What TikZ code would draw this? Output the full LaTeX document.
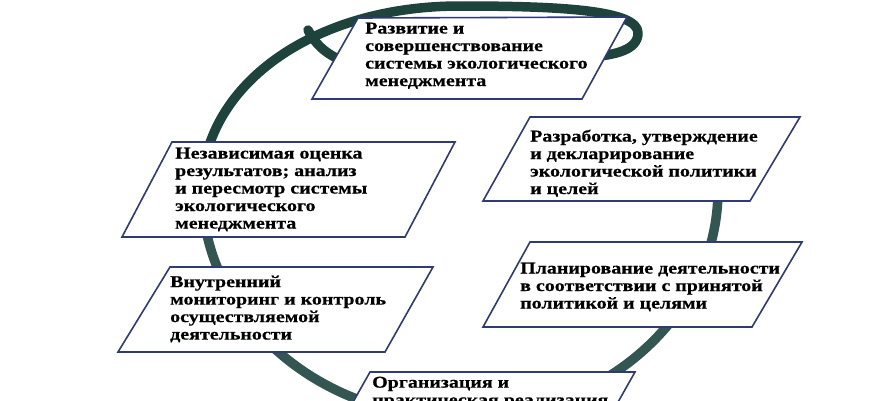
\documentclass[tikz,border=0pt]{standalone}
\usepackage{fontspec}
\newfontfamily\boxfont[FakeStretch=1.21,FakeBold=0.5]{Liberation Serif Bold}
\definecolor{ringcol}{RGB}{30,66,60}
\definecolor{ringlow}{RGB}{52,86,82}
\definecolor{edgecol}{RGB}{48,58,118}
\tikzset{
  ring/.style={draw=ringcol, line width=9.5pt, line cap=round, line join=round},
  pbox/.style={draw=edgecol, fill=white, line width=1.6pt, line join=miter},
  txt/.style={anchor=north west, inner sep=0pt, align=left, text=black,
    font=\boxfont\fontsize{16.5}{17.5}\selectfont}
}
\begin{document}
\begin{tikzpicture}[x=1pt, y=-1pt]
\useasboundingbox (0,0) rectangle (870,400);
\fill[white] (0,0) rectangle (870,400);
\clip (0,0) rectangle (870,400);
% ring
\draw[ring, draw=ringlow] (703,135) .. controls (714,152) and (718,170) .. (718,190)
  .. controls (718,316) and (602.5,418) .. (460,418)
  .. controls (317.5,418) and (202,316) .. (202,190);
\draw[ring] (202,190)
  .. controls (202,88) and (310,6) .. (460,6)
  .. controls (560,6) and (638,10) .. (638,33)
  .. controls (638,50) and (615,55) .. (590,57);
\draw[ring] (308,30) .. controls (316,45) and (326,55) .. (350,64);
% boxes
\draw[pbox] (358,18) -- (627,17) -- (582,99) -- (312,99) -- cycle;
\node[txt] (b1) at (365,22.5) {Развитие и\\совершенствование\\системы экологического\\менеджмента};
\draw[pbox] (530,117) -- (800,117) -- (750,201) -- (483,201) -- cycle;
\node[txt] (b2) at (530,129.5) {Разработка, утверждение\\и декларирование\\экологической политики\\и целей};
\draw[pbox] (172,142) -- (455,142) -- (405,237) -- (122,237) -- cycle;
\node[txt] (b3) at (175,147.5) {Независимая оценка\\результатов; анализ\\и пересмотр системы\\экологического\\менеджмента};
\draw[pbox] (170,267) -- (433,267) -- (385,352) -- (118,352) -- cycle;
\node[txt] (b4) at (170,275.5) {Внутренний\\мониторинг и контроль\\осуществляемой\\деятельности};
\draw[pbox] (530,242) -- (802,242) -- (752,327) -- (483,327) -- cycle;
\node[txt] (b5) at (520,262.5) {Планирование деятельности\\в соответствии с принятой\\политикой и целями};
\draw[pbox] (370,372) -- (635,372) -- (587,457) -- (322,457) -- cycle;
\node[txt] (b6) at (372,376.5) {Организация и\\практическая реализация};
\end{tikzpicture}
\end{document}
